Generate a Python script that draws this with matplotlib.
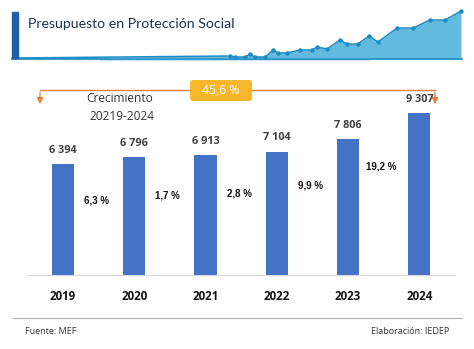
import numpy as np
import matplotlib.pyplot as plt
from matplotlib.patches import FancyBboxPatch, Rectangle

# Presupuesto en protección social (millones de soles)
years = ["2019", "2020", "2021", "2022", "2023", "2024"]
budget = [6394, 6796, 6913, 7104, 7806, 9307]
growth = ["6,3 %", "1,7 %", "2,8 %", "9,9 %", "19,2 %"]
total_growth = "45,6 %"

# decorative sparkline in the header
spark_x = [12, 230, 235, 245, 250, 255, 265, 273, 278, 287, 300, 312, 317, 327,
           340, 347, 358, 369, 378, 397, 413, 430, 445, 461]
spark_y = [58, 56, 57, 57, 54, 57, 57, 50, 53, 53, 50, 50, 47, 49,
           40, 44, 44, 36, 42, 28, 28, 20, 20, 11]

W, H = 474, 349
fig = plt.figure(figsize=(W / 100, H / 100), dpi=100)

# overlay in pixel coordinates for the decorations
deco = fig.add_axes([0, 0, 1, 1])
deco.set_xlim(0, W)
deco.set_ylim(H, 0)
deco.axis("off")

# header
deco.add_patch(Rectangle((12, 12), 6, 46, color="#1f5fa8", zorder=3))
deco.text(28, 24, "Presupuesto en Protección Social", fontsize=10.2,
          family="Lato", color="#1d3250", va="center", ha="left")
deco.fill_between(spark_x, spark_y, 59, color="#2ea3d3", alpha=0.75, lw=0)
deco.add_patch(Rectangle((100, 58), 270, 3, color="#bfe3f2", lw=0))
deco.plot(spark_x, spark_y, color="#1d8cc4", lw=1.1)
deco.plot(spark_x[1:], spark_y[1:], "o", ms=2.2, color="#1d8cc4")
deco.plot([12, 462], [58.5, 58.5], color="#1d8cc4", lw=1.2)

# growth bracket
orange = "#e8823a"
deco.plot([40, 435], [90, 90], color=orange, lw=1)
for xa in (40, 435):
    deco.annotate("", xy=(xa, 107), xytext=(xa, 89.5),
                  arrowprops=dict(arrowstyle="-|>", color=orange, lw=1,
                                  mutation_scale=9))
deco.add_patch(FancyBboxPatch((190, 80), 62, 21,
                              boxstyle="round,pad=0,rounding_size=3",
                              fc="#f8b62d", ec="none", zorder=4))
deco.text(221, 91, total_growth, color="white", fontsize=8.8, family="Open Sans",
          ha="center", va="center", zorder=5)
deco.text(120, 99, "Crecimiento", fontsize=8.6, family="Open Sans",
          color="#333333", ha="center", va="center")
deco.text(122, 116, "20219-2024", fontsize=8.6, family="Open Sans",
          color="#333333", ha="center", va="center")

# footer
deco.plot([13, 462], [318, 318], color="#b0b0b0", lw=0.8)
deco.text(25, 331, "Fuente: MEF", fontsize=6.5, family="Open Sans",
          color="#333333", ha="left", va="center")
deco.text(449, 331, "Elaboración: IEDEP", fontsize=6.5, family="Open Sans",
          color="#333333", ha="right", va="center")

# bar chart
ax = fig.add_axes([28 / W, 1 - 275 / H, (455 - 28) / W, 175 / H])
ax.patch.set_alpha(0)
x = np.arange(len(years))
ax.bar(x, budget, width=0.31, color="#4472c4", zorder=2)
ax.set_xlim(-0.49, 5.5)
ax.set_ylim(0, 10080)
for s in ["top", "right", "left"]:
    ax.spines[s].set_visible(False)
ax.spines["bottom"].set_color("#d9d9d9")
ax.set_yticks([])
ax.set_xticks(x)
ax.set_xticklabels(years, fontsize=8.3, fontweight="bold", family="Open Sans",
                   color="#111111")
ax.tick_params(axis="x", length=0, pad=11)

for i, v in enumerate(budget):
    ax.annotate(f"{v:,}".replace(",", " "), (i, v), xytext=(0, 10),
                textcoords="offset points", ha="center", va="center",
                fontsize=7.8, fontweight="bold", family="Open Sans",
                color="#404040")

for i, g in enumerate(growth):
    mid = (budget[i] + budget[i + 1]) / 2 - 2300
    ax.text(i + 0.47, mid, g, ha="center", va="center", fontsize=7,
            fontweight="bold", family="Liberation Sans", color="#111111")

fig.savefig("out.png", dpi=100)
